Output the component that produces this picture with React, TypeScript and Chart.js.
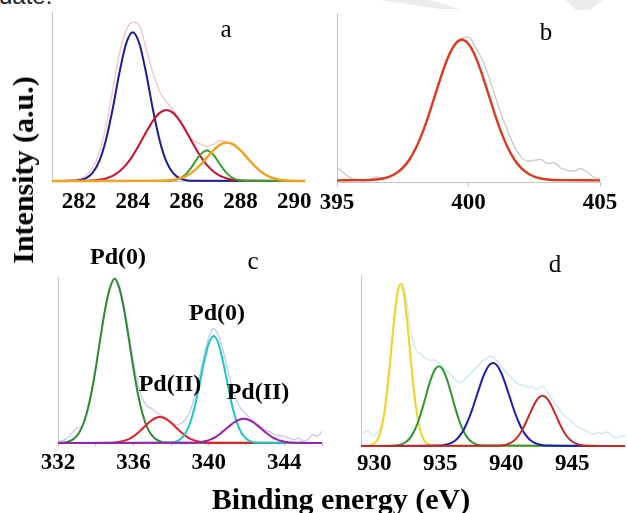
import React, { useEffect, useRef } from 'react';
import { Chart, registerables } from 'chart.js';

Chart.register(...registerables);

// ---------------- Panel a : C 1s ----------------
const aTicks = [282, 284, 286, 288, 290];
const aRawE = [281, 281.25, 281.5, 281.75, 282, 282.25, 282.5, 282.75, 283, 283.25, 283.5, 283.75, 284, 284.25, 284.5, 284.75, 285, 285.25, 285.5, 285.75, 286, 286.25, 286.5, 286.75, 287, 287.25, 287.5, 287.75, 288, 288.25, 288.5, 288.75, 289, 289.25, 289.5, 289.75, 290, 290.25];
const aRawI = [0, 0.2, 0.3, 0.6, 1.2, 3, 7.5, 16.5, 32, 53, 75, 89, 94, 92, 78, 64, 53, 47, 42, 35, 28, 24, 22, 20.5, 21.5, 24, 23, 21, 18, 14, 9.5, 6, 3.2, 1.6, 0.7, 0.3, 0.1, 0];
const aBlueE = [281, 281.75, 282, 282.25, 282.5, 282.75, 283, 283.25, 283.5, 283.75, 284, 284.25, 284.5, 284.75, 285, 285.25, 285.5, 285.75, 286, 286.25, 290.4];
const aBlueI = [0, 0.1, 0.5, 1.6, 4.7, 11.5, 24.0, 42.3, 63.6, 81.1, 88, 81.1, 63.6, 42.3, 24.0, 11.5, 4.7, 1.6, 0.5, 0.1, 0];
const aRedE = [281, 282.25, 282.5, 282.75, 283, 283.25, 283.5, 283.75, 284, 284.25, 284.5, 284.75, 285, 285.25, 285.5, 285.75, 286, 286.25, 286.5, 286.75, 287, 287.25, 287.5, 287.75, 288, 288.25, 290.4];
const aRedI = [0, 0.1, 0.3, 0.7, 1.5, 3.0, 5.6, 9.5, 15.0, 21.7, 29.0, 35.6, 40.3, 42, 40.3, 35.6, 29.0, 21.7, 15.0, 9.5, 5.6, 3.0, 1.5, 0.7, 0.3, 0.1, 0];
const aGreenE = [281, 285.25, 285.5, 285.75, 286, 286.25, 286.5, 286.75, 287, 287.25, 287.5, 287.75, 288, 288.25, 290.4];
const aGreenI = [0, 0.1, 0.4, 1.5, 4.5, 9.7, 15.4, 18, 15.4, 9.7, 4.5, 1.5, 0.4, 0.1, 0];
const aOrangeE = [281, 285, 285.25, 285.5, 285.75, 286, 286.25, 286.5, 286.75, 287, 287.25, 287.5, 287.75, 288, 288.25, 288.5, 288.75, 289, 289.25, 289.5, 289.75, 290, 290.4];
const aOrangeI = [0, 0.1, 0.25, 0.6, 1.5, 3.1, 5.7, 9.3, 13.8, 18.2, 21.5, 22.7, 21.5, 18.2, 13.8, 9.3, 5.7, 3.1, 1.5, 0.6, 0.25, 0.1, 0];

// ---------------- Panel b : N 1s ----------------
const bTicks = [395, 400, 405];
const bRawE = [395, 395.25, 395.5, 395.75, 396, 396.25, 396.5, 396.75, 397, 397.25, 397.5, 397.75, 398, 398.25, 398.5, 398.75, 399, 399.25, 399.5, 399.75, 400, 400.25, 400.5, 400.75, 401, 401.25, 401.5, 401.75, 402, 402.25, 402.5, 402.75, 403, 403.25, 403.5, 403.75, 404, 404.25, 404.5, 404.75, 405];
const bRawI = [8, 4.5, 1.5, 0.5, -0.5, 0.5, 2, 1.5, 2.5, 4.5, 8, 13, 19.5, 28, 40, 52, 64, 75, 82, 85, 85.5, 80, 73, 63, 51, 39, 29, 20, 14, 11.5, 12, 12.5, 10, 10.5, 7.5, 6, 5.5, 7, 5, 2, 1];
const bRedE = [395, 396, 396.25, 396.5, 396.75, 397, 397.25, 397.5, 397.75, 398, 398.25, 398.5, 398.75, 399, 399.25, 399.5, 399.75, 400, 400.25, 400.5, 400.75, 401, 401.25, 401.5, 401.75, 402, 402.25, 402.5, 402.75, 403, 403.25, 403.5, 405];
const bRedI = [0, 0.1, 0.2, 0.5, 1.1, 2.2, 4.2, 7.4, 12.3, 19.3, 28.5, 39.6, 51.9, 64.1, 74.5, 81.5, 84, 81.5, 74.5, 64.1, 51.9, 39.6, 28.5, 19.3, 12.3, 7.4, 4.2, 2.2, 1.1, 0.5, 0.2, 0.1, 0];

// ---------------- Panel c : Pd 3d ----------------
const cTicks = [332, 334, 336, 338, 340, 342, 344, 346];
const cTickLabels = [332, 336, 340, 344];
const cRawE = [332, 332.25, 332.5, 332.75, 333, 333.25, 333.5, 333.75, 334, 334.25, 334.5, 334.75, 335, 335.25, 335.5, 335.75, 336, 336.25, 336.5, 336.75, 337, 337.25, 337.5, 337.75, 338, 338.25, 338.5, 338.75, 339, 339.25, 339.5, 339.75, 340, 340.25, 340.5, 340.75, 341, 341.25, 341.5, 341.75, 342, 342.25, 342.5, 342.75, 343, 343.25, 343.5, 343.75, 344, 344.25, 344.5, 344.75, 345, 345.25, 345.5, 345.75, 346];
const cRawI = [1, 1.5, 3, 6, 9, 10, 18, 30, 46, 64, 81, 93, 99.5, 95, 83, 66, 49, 35, 26, 22, 20.5, 18, 16.5, 14.5, 12.5, 11, 11.5, 14, 19, 28, 40, 53, 64, 69, 65, 56, 44, 33, 25, 20, 17, 14.5, 12, 10, 8, 6.5, 5, 4.5, 4, 3, 2, 3, 1, 2, 5, 4, 7];
const cGreenE = [332, 332.25, 332.5, 332.75, 333, 333.25, 333.5, 333.75, 334, 334.25, 334.5, 334.75, 335, 335.25, 335.5, 335.75, 336, 336.25, 336.5, 336.75, 337, 337.25, 337.5, 337.75, 338, 346];
const cGreenI = [0.1, 0.3, 0.7, 1.9, 4.3, 9.0, 16.9, 28.9, 44.9, 63.2, 80.6, 93.3, 99, 93.3, 80.6, 63.2, 44.9, 28.9, 16.9, 9.0, 4.3, 1.9, 0.7, 0.3, 0.1, 0];
const cRedE = [332, 334.9, 335.15, 335.4, 335.65, 335.9, 336.15, 336.4, 336.65, 336.9, 337.15, 337.4, 337.65, 337.9, 338.15, 338.4, 338.65, 338.9, 339.15, 339.4, 339.65, 339.9, 346];
const cRedI = [0, 0.2, 0.5, 1.0, 1.9, 3.3, 5.3, 7.8, 10.6, 13.1, 14.9, 15.6, 14.9, 13.1, 10.6, 7.8, 5.3, 3.3, 1.9, 1.0, 0.5, 0.2, 0];
const cCyanE = [332, 337.75, 338, 338.25, 338.5, 338.75, 339, 339.25, 339.5, 339.75, 340, 340.25, 340.5, 340.75, 341, 341.25, 341.5, 341.75, 342, 342.25, 342.5, 342.75, 346];
const cCyanI = [0, 0.1, 0.3, 0.85, 2.4, 5.7, 11.9, 21.9, 35.1, 49.2, 60.2, 64.4, 60.2, 49.2, 35.1, 21.9, 11.9, 5.7, 2.4, 0.85, 0.3, 0.1, 0];
const cPurpleE = [332, 339.1, 339.35, 339.6, 339.85, 340.1, 340.35, 340.6, 340.85, 341.1, 341.35, 341.6, 341.85, 342.1, 342.35, 342.6, 342.85, 343.1, 343.35, 343.6, 343.85, 344.1, 344.35, 344.6, 346];
const cPurpleI = [0, 0.1, 0.3, 0.6, 1.2, 2.2, 3.6, 5.6, 7.9, 10.3, 12.5, 14.0, 14.6, 14.0, 12.5, 10.3, 7.9, 5.6, 3.6, 2.2, 1.2, 0.6, 0.3, 0.1, 0];

// ---------------- Panel d : Cu 2p ----------------
const dTicks = [930, 935, 940, 945];
const dRawE = [929, 929.25, 929.5, 929.75, 930, 930.25, 930.5, 930.75, 931, 931.25, 931.5, 931.75, 932, 932.25, 932.5, 932.75, 933, 933.25, 933.5, 933.75, 934, 934.25, 934.5, 934.75, 935, 935.25, 935.5, 935.75, 936, 936.25, 936.5, 936.75, 937, 937.25, 937.5, 937.75, 938, 938.25, 938.5, 938.75, 939, 939.25, 939.5, 939.75, 940, 940.25, 940.5, 940.75, 941, 941.25, 941.5, 941.75, 942, 942.25, 942.5, 942.75, 943, 943.25, 943.5, 943.75, 944, 944.25, 944.5, 944.75, 945, 945.25, 945.5, 945.75, 946, 946.25, 946.5, 946.75, 947, 947.25, 947.5, 947.75, 948, 948.25, 948.5, 948.75, 949];
const dRawI = [7, 8, 9, 7, 6, 8, 11, 20, 36, 55, 75, 90, 95, 93, 83, 68, 60, 55, 54, 52, 51, 50, 50.5, 49, 48, 46, 44, 42, 40, 38, 37, 38, 40, 42, 44, 46, 48, 50, 51, 52.5, 52, 50, 48, 45, 43, 41, 39, 37, 36, 35.5, 35, 34, 35, 33, 34, 35, 33, 30, 27, 24, 22, 19, 17, 16, 14, 12, 11, 10, 9, 8, 7, 7, 8, 7, 8, 8, 6, 5, 5, 6, 6];
const dYellowE = [929, 929.5, 929.75, 930, 930.25, 930.5, 930.75, 931, 931.25, 931.5, 931.75, 932, 932.25, 932.5, 932.75, 933, 933.25, 933.5, 933.75, 934, 934.25, 934.5, 949];
const dYellowI = [0, 0.1, 0.5, 1.4, 3.8, 8.9, 18.4, 33.1, 52.4, 72.8, 88.7, 94.7, 88.7, 72.8, 52.4, 33.1, 18.4, 8.9, 3.8, 1.4, 0.5, 0.1, 0];
const dGreenE = [929, 931.65, 931.9, 932.15, 932.4, 932.65, 932.9, 933.15, 933.4, 933.65, 933.9, 934.15, 934.4, 934.65, 934.9, 935.15, 935.4, 935.65, 935.9, 936.15, 936.4, 936.65, 936.9, 937.15, 937.4, 937.65, 937.9, 938.15, 949];
const dGreenI = [0, 0.3, 0.6, 1.2, 2.3, 4.1, 6.8, 10.7, 15.8, 22.0, 28.8, 35.6, 41.3, 45.2, 46.6, 45.2, 41.3, 35.6, 28.8, 22.0, 15.8, 10.7, 6.8, 4.1, 2.3, 1.2, 0.6, 0.3, 0];
const dBlueE = [929, 935, 935.25, 935.5, 935.75, 936, 936.25, 936.5, 936.75, 937, 937.25, 937.5, 937.75, 938, 938.25, 938.5, 938.75, 939, 939.25, 939.5, 939.75, 940, 940.25, 940.5, 940.75, 941, 941.25, 941.5, 941.75, 942, 942.25, 942.5, 942.75, 943, 949];
const dBlueI = [0, 0.25, 0.47, 0.85, 1.5, 2.5, 4.0, 6.2, 9.1, 13.0, 17.7, 23.1, 29.0, 34.9, 40.4, 44.7, 47.6, 48.6, 47.6, 44.7, 40.4, 34.9, 29.0, 23.1, 17.7, 13.0, 9.1, 6.2, 4.0, 2.5, 1.5, 0.85, 0.47, 0.25, 0];
const dRedE = [929, 939.5, 939.75, 940, 940.25, 940.5, 940.75, 941, 941.25, 941.5, 941.75, 942, 942.25, 942.5, 942.75, 943, 943.25, 943.5, 943.75, 944, 944.25, 944.5, 944.75, 945, 945.25, 945.5, 945.75, 946, 949];
const dRedI = [0, 0.2, 0.4, 0.8, 1.5, 2.6, 4.3, 6.7, 10.0, 13.9, 18.2, 22.4, 26.1, 28.5, 29.4, 28.5, 26.1, 22.4, 18.2, 13.9, 10.0, 6.7, 4.3, 2.6, 1.5, 0.8, 0.4, 0.2, 0];

// ---------------- texts ----------------
const yTitle = 'Intensity (a.u.)';
const xTitle = 'Binding energy (eV)';
const panelLetters = ['a', 'b', 'c', 'd'];
const peakLabels = ['Pd(0)', 'Pd(0)', 'Pd(II)', 'Pd(II)'];

const SERIF = "'Liberation Serif', 'Times New Roman', Times, serif";
const AXIS = '#c6c6c6';
const TICK_SIZE = 23;
const TICK_LH = TICK_SIZE * 1.2;

type Series = { e: number[]; v: number[]; color: string; width: number };
type PanelSpec = {
  left: number; top: number; width: number; height: number;
  plotTop: number; plotBottom: number; padL: number; padR: number;
  xMin: number; xMax: number; yMin: number; yMax: number;
  ticks: number[]; labels: number[]; tickLen: number; tickPad: number;
  series: Series[];
};

const panels: PanelSpec[] = [
  {
    left: 0, top: 0, width: 320, height: 230, plotTop: 12, plotBottom: 181, padL: 52, padR: 15,
    xMin: 281, xMax: 290.4, yMin: 0, yMax: 100,
    ticks: aTicks, labels: aTicks, tickLen: 0, tickPad: 7.5,
    series: [
      { e: aRawE, v: aRawI, color: '#f6c4cc', width: 1.4 },
      { e: aBlueE, v: aBlueI, color: '#1b1b96', width: 2 },
      { e: aRedE, v: aRedI, color: '#c8102e', width: 2 },
      { e: aGreenE, v: aGreenI, color: '#3aa02c', width: 2 },
      { e: aOrangeE, v: aOrangeI, color: '#f4a21c', width: 2.4 },
    ],
  },
  {
    left: 305, top: 0, width: 322, height: 230, plotTop: 13, plotBottom: 182, padL: 32, padR: 27,
    xMin: 395, xMax: 405, yMin: -1, yMax: 100,
    ticks: bTicks, labels: bTicks, tickLen: 4, tickPad: 3,
    series: [
      { e: bRawE, v: bRawI, color: '#c9c9c9', width: 1.3 },
      { e: bRedE, v: bRedI, color: '#da3a1e', width: 2.4 },
    ],
  },
  {
    left: 0, top: 250, width: 340, height: 263, plotTop: 277, plotBottom: 443, padL: 58, padR: 18,
    xMin: 332, xMax: 346, yMin: 0, yMax: 100,
    ticks: cTicks, labels: cTickLabels, tickLen: 3, tickPad: 3,
    series: [
      { e: cRawE, v: cRawI, color: '#c6cdf5', width: 1.4 },
      { e: cGreenE, v: cGreenI, color: '#2f8a2f', width: 2 },
      { e: cRedE, v: cRedI, color: '#ec1c24', width: 2 },
      { e: cCyanE, v: cCyanI, color: '#1fc4c4', width: 2 },
      { e: cPurpleE, v: cPurpleI, color: '#9b1fb0', width: 2 },
    ],
  },
  {
    left: 340, top: 250, width: 287, height: 263, plotTop: 275, plotBottom: 446, padL: 21, padR: 2,
    xMin: 929, xMax: 949, yMin: 0, yMax: 100,
    ticks: dTicks, labels: dTicks, tickLen: 0, tickPad: 4,
    series: [
      { e: dRawE, v: dRawI, color: '#cbe9f7', width: 1.4 },
      { e: dYellowE, v: dYellowI, color: '#f5d31c', width: 2 },
      { e: dGreenE, v: dGreenI, color: '#2f962f', width: 2 },
      { e: dBlueE, v: dBlueI, color: '#1c1cb4', width: 2 },
      { e: dRedE, v: dRedI, color: '#c62828', width: 2 },
    ],
  },
];

function PanelChart({ p }: { p: PanelSpec }) {
  const ref = useRef<HTMLCanvasElement | null>(null);
  useEffect(() => {
    if (!ref.current) return;
    const padBottom = p.height - (p.plotBottom - p.top) - p.tickLen - 2 * p.tickPad - TICK_LH;
    const n = p.series.length;
    const chart = new Chart(ref.current, {
      type: 'line',
      data: {
        datasets: p.series.map((s, idx) => ({
          data: s.e.map((x, i) => ({ x, y: s.v[i] })),
          borderColor: s.color,
          borderWidth: s.width,
          pointRadius: 0,
          fill: false,
          order: n - idx,
          cubicInterpolationMode: 'monotone' as const,
          clip: false as any,
        })),
      },
      options: {
        animation: false,
        responsive: false,
        events: [],
        layout: { padding: { left: p.padL, right: p.padR, top: p.plotTop - p.top, bottom: padBottom } },
        plugins: { legend: { display: false }, tooltip: { enabled: false } },
        scales: {
          x: {
            type: 'linear',
            min: p.xMin,
            max: p.xMax,
            border: { display: true, color: AXIS, width: 1 },
            grid: {
              display: p.tickLen > 0,
              drawOnChartArea: false,
              drawTicks: p.tickLen > 0,
              tickLength: p.tickLen,
              color: '#bdbdbd',
            },
            ticks: {
              autoSkip: false,
              maxRotation: 0,
              padding: p.tickPad,
              color: '#000',
              font: { family: SERIF, size: TICK_SIZE, weight: 'bold' },
              callback: (v: any) => (p.labels.includes(Number(v)) ? String(v) : ''),
            },
            afterBuildTicks: (scale: any) => {
              scale.ticks = p.ticks.map((v) => ({ value: v }));
            },
          },
          y: {
            type: 'linear',
            min: p.yMin,
            max: p.yMax,
            border: { display: true, color: AXIS, width: 1 },
            grid: { display: false, drawTicks: false },
            ticks: { display: false },
          },
        },
      } as any,
    });
    return () => chart.destroy();
  }, [p]);
  return (
    <canvas
      ref={ref}
      width={p.width}
      height={p.height}
      style={{ position: 'absolute', left: p.left, top: p.top, width: p.width, height: p.height }}
    />
  );
}

function Txt({ text, cx, base, size, bold, family }: { text: string; cx: number; base: number; size: number; bold?: boolean; family?: string }) {
  return (
    <div
      style={{
        position: 'absolute',
        left: cx,
        top: base - 0.8375 * size,
        transform: 'translateX(-50%)',
        fontFamily: family || SERIF,
        fontSize: size,
        lineHeight: `${size}px`,
        fontWeight: bold ? 'bold' : 'normal',
        whiteSpace: 'nowrap',
        color: '#000',
      }}
    >
      {text}
    </div>
  );
}

export default function App() {
  return (
    <div style={{ position: 'absolute', left: 0, top: 0, width: 627, height: 513, background: '#fff', overflow: 'hidden' }}>
      <svg width={627} height={40} style={{ position: 'absolute', left: 0, top: 0 }}>
        <polygon points="380,0 430,0 460,9 440,9" fill="#ececec" />
        <polygon points="565,0 603,0 590,10 576,10" fill="#ececec" />
      </svg>
      <div style={{ position: 'absolute', left: -1, top: -16, fontFamily: "'Liberation Sans', Arial, sans-serif", fontSize: 24, lineHeight: '24px', color: '#222' }}>date.</div>
      {panels.map((p, i) => (
        <PanelChart key={i} p={p} />
      ))}
      <Txt text={panelLetters[0]} cx={226} base={36.5} size={25} />
      <Txt text={panelLetters[1]} cx={546} base={39.5} size={25} />
      <Txt text={panelLetters[2]} cx={253} base={269} size={25} />
      <Txt text={panelLetters[3]} cx={555} base={271.5} size={25} />
      <Txt text={peakLabels[0]} cx={118} base={264} size={24} bold />
      <Txt text={peakLabels[1]} cx={217} base={320} size={24} bold />
      <Txt text={peakLabels[2]} cx={170} base={391} size={24} bold />
      <Txt text={peakLabels[3]} cx={258} base={399} size={24} bold />
      <Txt text={xTitle} cx={341} base={509} size={30} bold />
      <div
        style={{
          position: 'absolute',
          left: 23,
          top: 170,
          transform: 'translate(-50%, -50%) rotate(-90deg)',
          fontFamily: SERIF,
          fontSize: 30,
          lineHeight: '30px',
          fontWeight: 'bold',
          whiteSpace: 'nowrap',
          color: '#000',
        }}
      >
        {yTitle}
      </div>
    </div>
  );
}
